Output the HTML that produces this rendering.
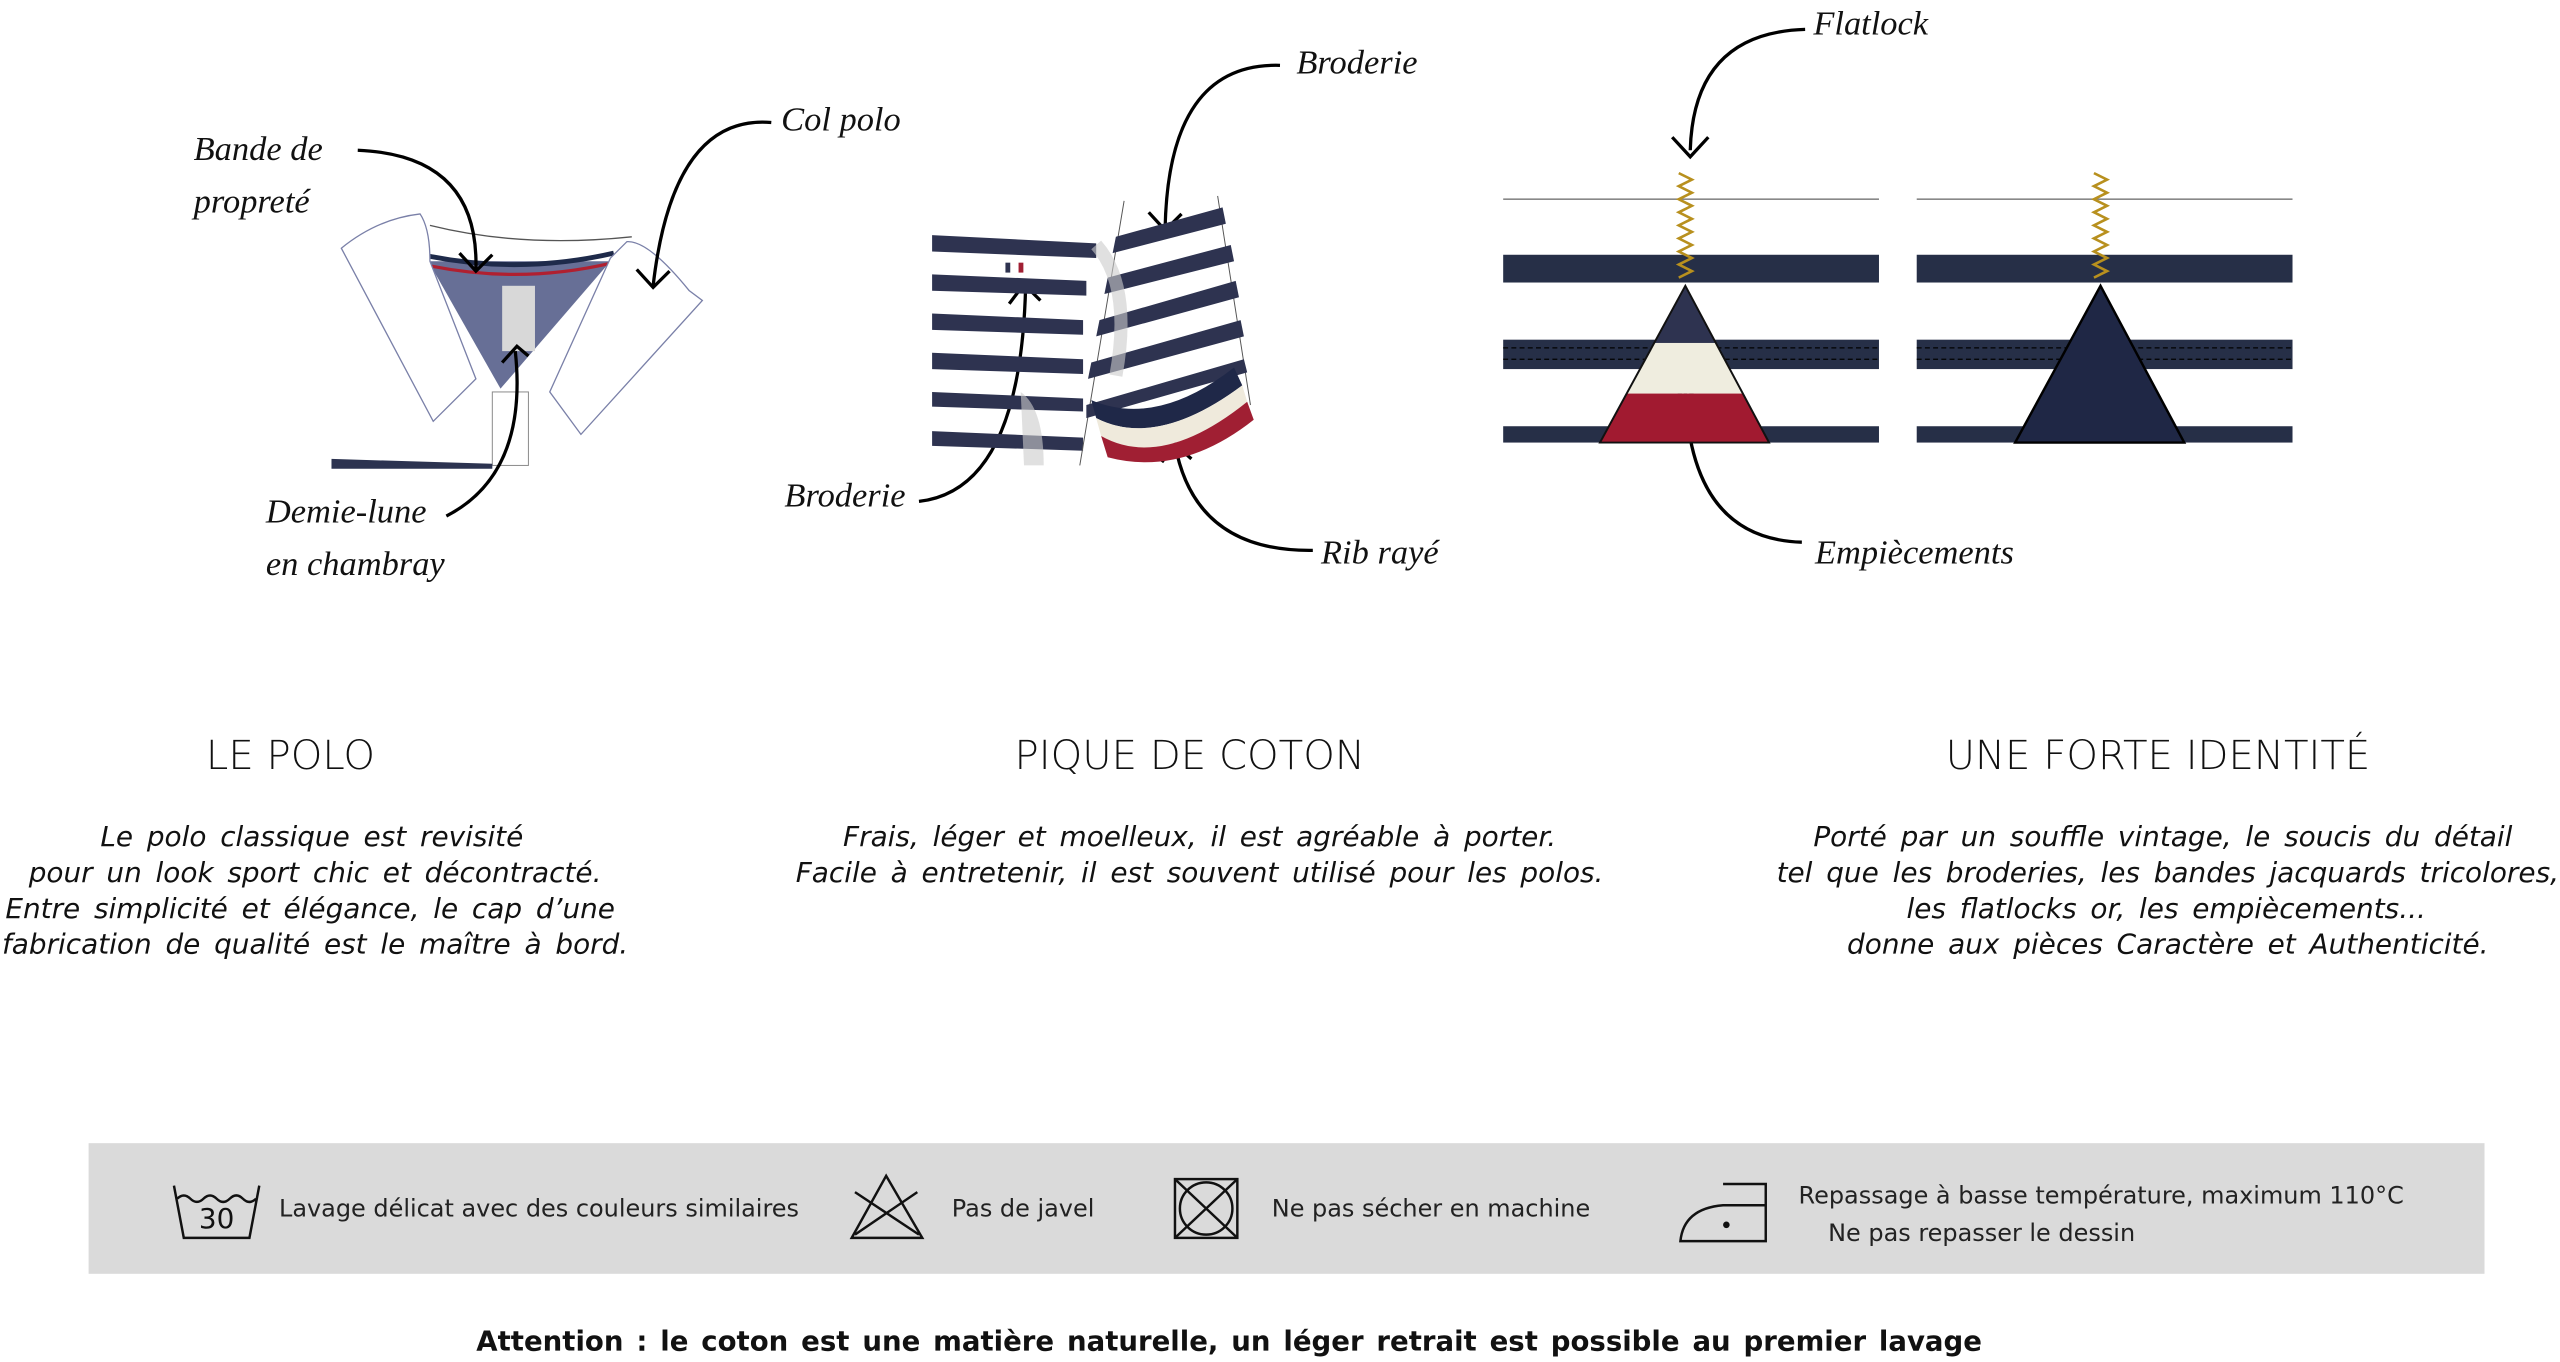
<!DOCTYPE html>
<html><head><meta charset="utf-8"><style>
html,body{margin:0;padding:0;background:#fff;width:2560px;height:1362px;overflow:hidden}
svg{display:block}
.s{font-family:"Liberation Serif",serif;font-style:italic;font-size:21px;fill:#111}
.h{font-family:"DejaVu Sans","Liberation Sans",sans-serif;font-size:24.5px;fill:#111;text-anchor:middle;font-weight:300}
.p{font-family:"DejaVu Sans","Liberation Sans",sans-serif;font-style:italic;font-size:17px;fill:#111;text-anchor:middle;word-spacing:3px}
.c{font-family:"DejaVu Sans","Liberation Sans",sans-serif;font-size:14.6px;fill:#222}
.b{font-family:"DejaVu Sans","Liberation Sans",sans-serif;font-size:16.8px;fill:#111;font-weight:bold;text-anchor:middle;word-spacing:2px}
</style></head><body>
<svg width="2560" height="1362" viewBox="0 0 1560 834" preserveAspectRatio="none">
<!-- POLO -->
<polygon points="261,160 372,160 305,238" fill="#676f96"/>
<path d="M262,157 Q318,168 374,155" stroke="#1e2a4a" stroke-width="3" fill="none"/>
<path d="M263,163 Q318,174 373,161" stroke="#b02030" stroke-width="2" fill="none"/>
<rect x="306" y="175" width="20" height="40" fill="#d8d8d8"/>
<g fill="#fff" stroke="#7a80a8" stroke-width="0.8">
<path d="M208,152 Q230,134 256,131 Q262,140 262,160 L290,232 L264,258 Z"/>
<path d="M372,158 L382,148 Q395,147 420,178 L428,184 L354,266 L335,240 Z"/>
</g>
<path d="M262,138 Q318,152 385,145" stroke="#555" stroke-width="0.8" fill="none"/>
<rect x="300" y="240" width="22" height="45" fill="#fff" stroke="#888" stroke-width="0.6"/>
<polygon points="202,281 300,284 300,287 202,287" fill="#2c3350"/>
<g stroke="#000" stroke-width="2" fill="none">
<path d="M218,92 Q292,95 290,165"/><path d="M280,155 L290,166 L300,156"/>
<path d="M470,75 Q410,70 398,175"/><path d="M388,165 L398,176 L408,166"/>
<path d="M272,316 Q322,290 314,215"/><path d="M306,222 L315,212 L322,218"/>
<path d="M780,40 Q712,38 710,140"/><path d="M700,130 L710,141 L720,131"/>
<path d="M560,307 Q622,300 625,175"/><path d="M615,186 L624,174 L634,184"/>
<path d="M800,337 Q728,338 716,272"/><path d="M708,283 L716,272 L726,281"/>
<path d="M1100,18 Q1032,20 1030,92"/><path d="M1019,84 L1030,96 L1041,84"/>
<path d="M1098,332 Q1030,330 1027,240"/><path d="M1018,248 L1027,237 L1036,247"/>
</g>
<text class="s" x="118" y="98">Bande de</text>
<text class="s" x="118" y="130">propreté</text>
<text class="s" x="476" y="80">Col polo</text>
<text class="s" x="162" y="320">Demie-lune</text>
<text class="s" x="162" y="352">en chambray</text>
<!-- PIQUE -->
<g fill="#2e3350">
<polygon points="568,144 668,149 668,158 568,154"/>
<polygon points="568,168 662,172 662,181 568,178"/>
<polygon points="568,192 660,196 660,205 568,202"/>
<polygon points="568,216 660,220 660,229 568,226"/>
<polygon points="568,240 660,244 660,252 568,249"/>
<polygon points="568,264 660,268 660,276 568,273"/>
</g>
<path d="M685,123 L658,285 M742,120 L762,248" stroke="#555" stroke-width="0.6" fill="none"/>
<g fill="#2e3350">
<polygon points="680,145 745,127 747,137 678,155"/>
<polygon points="675,170 750,150 752,160 673,180"/>
<polygon points="670,196 753,172 755,182 668,206"/>
<polygon points="665,222 756,196 758,206 663,232"/>
<polygon points="662,248 758,220 760,228 662,256"/>
</g>
<path d="M665,245 Q705,262 752,225 L757,236 Q705,275 668,256 Z" fill="#1f2848"/>
<path d="M668,256 Q705,275 757,236 L760,246 Q708,288 671,267 Z" fill="#efeadc"/>
<path d="M671,267 Q708,288 760,246 L764,257 Q720,292 675,280 Z" fill="#a01f33"/>
<path d="M622,240 Q636,250 636,285 L624,285 Z" fill="#ccc" opacity="0.6"/>
<path d="M668,150 Q690,175 680,230" stroke="#ccc" stroke-width="8" fill="none" opacity="0.6"/>
<text x="612" y="166" font-size="8" fill="#2e3350">▮</text><text x="620" y="166" font-size="8" fill="#a01f33">▮</text>
<text class="s" x="790" y="45">Broderie</text>
<text class="s" x="478" y="310">Broderie</text>
<text class="s" x="805" y="345">Rib rayé</text>
<!-- IDENTITE -->
<g stroke="#888" stroke-width="1"><line x1="916" y1="122" x2="1145" y2="122"/><line x1="1168" y1="122" x2="1397" y2="122"/></g>
<g fill="#262f47">
<rect x="916" y="156" width="229" height="17"/><rect x="916" y="208" width="229" height="18"/><rect x="916" y="261" width="229" height="10"/>
<rect x="1168" y="156" width="229" height="17"/><rect x="1168" y="208" width="229" height="18"/><rect x="1168" y="261" width="229" height="10"/>
</g>
<g stroke="#000" stroke-width="0.8" stroke-dasharray="3,2"><line x1="916" y1="213" x2="1145" y2="213"/><line x1="916" y1="220" x2="1145" y2="220"/><line x1="1168" y1="213" x2="1397" y2="213"/><line x1="1168" y1="220" x2="1397" y2="220"/></g>
<clipPath id="t1"><polygon points="1027,175 975,271 1078,271"/></clipPath>
<g clip-path="url(#t1)"><rect x="970" y="170" width="115" height="40" fill="#2e3350"/><rect x="970" y="210" width="115" height="31" fill="#efeddf"/><rect x="970" y="241" width="115" height="32" fill="#a11a30"/></g>
<polygon points="1027,175 975,271 1078,271" fill="none" stroke="#111" stroke-width="1.2"/>
<polygon points="1280,175 1228,271 1331,271" fill="#1f2745" stroke="#000" stroke-width="1.5"/>
<g fill="none" stroke="#b8901e" stroke-width="1.6">
<path d="M1023,106 L1031,110 L1023,114 L1031,118 L1023,122 L1031,126 L1023,130 L1031,134 L1023,138 L1031,142 L1023,146 L1031,150 L1023,154 L1031,158 L1023,162 L1031,166 L1023,170"/>
<path d="M1276,106 L1284,110 L1276,114 L1284,118 L1276,122 L1284,126 L1276,130 L1284,134 L1276,138 L1284,142 L1276,146 L1284,150 L1276,154 L1284,158 L1276,162 L1284,166 L1276,170"/>
</g>
<text class="s" x="1105" y="21">Flatlock</text>
<text class="s" x="1106" y="345">Empiècements</text>
<!-- TEXT -->
<text class="h" x="177" y="471">LE POLO</text>
<text class="h" x="725" y="471">PIQUE DE COTON</text>
<text class="h" x="1315" y="471">UNE FORTE IDENTITÉ</text>
<text class="p" x="190" y="518">Le polo classique est revisité</text>
<text class="p" x="192" y="540">pour un look sport chic et décontracté.</text>
<text class="p" x="189" y="562">Entre simplicité et élégance, le cap d’une</text>
<text class="p" x="192" y="584">fabrication de qualité est le maître à bord.</text>
<text class="p" x="731" y="518">Frais, léger et moelleux, il est agréable à porter.</text>
<text class="p" x="731" y="540">Facile à entretenir, il est souvent utilisé pour les polos.</text>
<text class="p" x="1318" y="518">Porté par un souffle vintage, le soucis du détail</text>
<text class="p" x="1321" y="540">tel que les broderies, les bandes jacquards tricolores,</text>
<text class="p" x="1320" y="562">les flatlocks or, les empiècements...</text>
<text class="p" x="1321" y="584">donne aux pièces Caractère et Authenticité.</text>
<!-- CARE -->
<rect x="54" y="700" width="1460" height="80" fill="#dadada"/>
<g stroke="#111" stroke-width="1.5" fill="none">
<path d="M106,726 L112,758 L152,758 L158,726"/><path d="M108,734 q4,-4 8,0 q4,4 8,0 q4,-4 8,0 q4,4 8,0 q4,-4 8,0 q4,4 8,0"/>
<polygon points="540,720 519,758 562,758"/><path d="M521,730 L560,756 M559,730 L521,756"/>
<rect x="716" y="722" width="38" height="36"/><circle cx="735" cy="740" r="16"/><path d="M716,722 L754,758 M754,722 L716,758"/>
<path d="M1050,725 L1076,725 L1076,760 L1024,760 Q1026,740 1050,738 L1076,738"/>
</g>
<circle cx="1052" cy="750" r="2" fill="#111"/>
<text x="132" y="752" font-family="DejaVu Sans,sans-serif" font-size="17" text-anchor="middle" fill="#111">30</text>
<text class="c" x="170" y="745">Lavage délicat avec des couleurs similaires</text>
<text class="c" x="580" y="745">Pas de javel</text>
<text class="c" x="775" y="745">Ne pas sécher en machine</text>
<text class="c" x="1096" y="737">Repassage à basse température, maximum 110°C</text>
<text class="c" x="1114" y="760">Ne pas repasser le dessin</text>
<text class="b" x="749" y="827">Attention : le coton est une matière naturelle, un léger retrait est possible au premier lavage</text>
</svg>
</body></html>
